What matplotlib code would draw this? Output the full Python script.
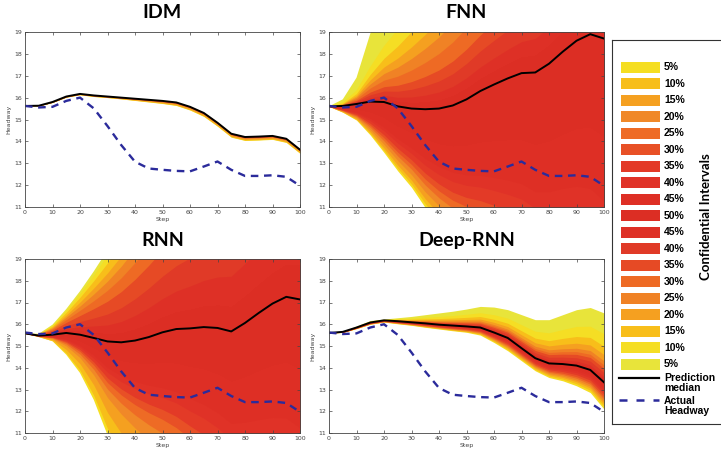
import numpy as np
import matplotlib
matplotlib.use('Agg')
from matplotlib import pyplot as plt
from matplotlib.patches import Rectangle

# x grid shared by all series
steps = [0, 5, 10, 15, 20, 25, 30, 35, 40, 45, 50, 55, 60, 65, 70, 75, 80, 85, 90, 95, 100]

actual_headway = [15.62, 15.55, 15.58, 15.85, 16.0, 15.51, 14.7, 13.83, 13.07, 12.76, 12.7, 12.65,
                  12.63, 12.85, 13.08, 12.7, 12.42, 12.42, 12.45, 12.38, 11.97]

# prediction medians
idm_median = [15.62, 15.63, 15.8, 16.05, 16.17, 16.1, 16.05, 16.0, 15.95, 15.9, 15.85, 15.78,
              15.58, 15.3, 14.85, 14.35, 14.2, 14.22, 14.25, 14.12, 13.62]
fnn_median = [15.6, 15.62, 15.71, 15.82, 15.8, 15.6, 15.5, 15.47, 15.5, 15.64, 15.92, 16.3,
              16.6, 16.88, 17.12, 17.15, 17.55, 18.1, 18.6, 18.9, 18.7]
rnn_median = [15.58, 15.48, 15.52, 15.6, 15.52, 15.37, 15.21, 15.17, 15.25, 15.41, 15.63, 15.78,
              15.81, 15.87, 15.83, 15.67, 16.06, 16.52, 16.95, 17.26, 17.14]
deep_median = [15.6, 15.65, 15.85, 16.08, 16.18, 16.14, 16.09, 16.04, 15.98, 15.94, 15.9, 15.85,
               15.62, 15.37, 14.9, 14.44, 14.2, 14.17, 14.1, 13.9, 13.33]

# outermost (5%) band distance above / below the median
idm_up = [0, 0.01, 0.01, 0.02, 0.02, 0.02, 0.02, 0.02, 0.02, 0.02, 0.03, 0.03,
          0.03, 0.03, 0.03, 0.03, 0.03, 0.03, 0.03, 0.03, 0.03]
idm_down = [0, 0.01, 0.02, 0.03, 0.04, 0.05, 0.05, 0.06, 0.08, 0.1, 0.12, 0.14,
            0.15, 0.16, 0.16, 0.16, 0.16, 0.16, 0.16, 0.17, 0.17]
fnn_up = [0, 0.3, 1.2, 3.1, 5.0, 6.9, 8.8, 10.7, 12.6, 14.5, 16.4, 18.3,
          20.2, 22.1, 24.0, 25.9, 27.8, 29.7, 31.6, 33.5, 35.4]
fnn_down = [0, 0.29, 0.74, 1.53, 2.31, 2.95, 3.6, 4.5, 5.3, 6.1, 6.9, 7.7,
            8.5, 9.3, 10.1, 10.9, 11.7, 12.5, 13.3, 14.1, 14.9]
rnn_up = [0, 0.08, 0.46, 1.1, 2.0, 3.06, 4.2, 5.3, 6.4, 7.5, 8.6, 9.7,
          10.8, 11.9, 13.0, 14.1, 15.2, 16.3, 17.4, 18.5, 19.6]
rnn_down = [0, 0.06, 0.3, 1.0, 1.76, 2.84, 4.3, 5.5, 6.7, 7.9, 9.1, 10.3,
            11.5, 12.7, 13.9, 15.1, 16.3, 17.5, 18.7, 19.9, 21.1]
deep_up = [0, 0.03, 0.07, 0.09, 0.06, 0.16, 0.27, 0.4, 0.54, 0.66, 0.8, 0.97,
           1.17, 1.3, 1.54, 1.77, 2.01, 2.27, 2.57, 2.87, 3.19]
deep_down = [0, 0.03, 0.05, 0.08, 0.08, 0.12, 0.14, 0.18, 0.2, 0.24, 0.27, 0.35,
             0.46, 0.59, 0.58, 0.58, 0.65, 0.77, 0.93, 1.04, 1.23]

# band edges as a share of the outermost distance (5% edge first, 45% edge last)
idm_up_frac = [1.0, 0.8, 0.6, 0.45, 0.35, 0.25, 0.18, 0.12, 0.07, 0.03]
idm_down_frac = [1.0, 0.9, 0.7, 0.45, 0.3, 0.2, 0.14, 0.1, 0.06, 0.03]
fnn_up_frac = [1.0, 0.51, 0.40, 0.32, 0.26, 0.20, 0.14, 0.10, 0.06, 0.03]
fnn_down_frac = [1.0, 0.96, 0.91, 0.84, 0.77, 0.71, 0.65, 0.57, 0.50, 0.30]
rnn_up_frac = [1.0, 0.95, 0.86, 0.75, 0.66, 0.56, 0.44, 0.30, 0.18, 0.08]
rnn_down_frac = [1.0, 0.93, 0.76, 0.60, 0.51, 0.44, 0.39, 0.33, 0.28, 0.15]
deep_up_frac = [1.0, 0.70, 0.52, 0.40, 0.31, 0.25, 0.20, 0.14, 0.08, 0.04]
deep_down_frac = [1.0, 0.90, 0.80, 0.72, 0.63, 0.55, 0.45, 0.35, 0.25, 0.15]

legend_labels = ['5%', '10%', '15%', '20%', '25%', '30%', '35%', '40%', '45%', '50%',
                 '45%', '40%', '35%', '30%', '25%', '20%', '15%', '10%', '5%']
legend_colors = ['#F5DE22', '#F7BE1A', '#F5A020', '#F08828', '#EE6B25', '#E85026', '#E33A27',
                 '#E03227', '#DE2F25', '#DC2E24', '#DE3026', '#E03A27', '#E64A25', '#EE6A24',
                 '#F08225', '#F5A020', '#F8BE1A', '#F5DE24', '#E8E43A']

# colours of the bands in the plots, outermost upper band first
band_colors = legend_colors[::-1]

W, H = 721, 453
fig = plt.figure(figsize=(W / 100, H / 100), dpi=100)


def px_axes(left, top, right, bottom):
    return fig.add_axes([left / W, 1 - bottom / H, (right - left) / W, (bottom - top) / H])


def draw_panel(ax, median, up, down, up_frac, down_frac):
    x = np.array(steps)
    med = np.array(median)
    uppers = [med + f * np.array(up) for f in up_frac]
    lowers = [med - f * np.array(down) for f in down_frac]
    # nested fills, outer first, so neighbouring bands leave no seams
    for k in range(10):
        ax.fill_between(x, med, uppers[k], color=band_colors[k], lw=0)
        ax.fill_between(x, lowers[k], med, color=band_colors[18 - k], lw=0)
    ax.fill_between(x, lowers[9], uppers[9], color=band_colors[9], lw=0)
    ax.plot(x, med, color='black', lw=1.4)
    ax.plot(x, actual_headway, color='#2B2B9B', lw=1.7, linestyle=(0, (3.2, 2.4)))
    ax.set_xlim(0, 100)
    ax.set_ylim(11, 19)
    ax.set_xticks(range(0, 101, 10))
    ax.set_yticks(range(11, 20))
    ax.tick_params(direction='in', length=2.5, width=0.5, labelsize=4.5, pad=2,
                   colors='#444444', top=True, right=True)
    for s in ax.spines.values():
        s.set_linewidth(0.6)
        s.set_color('#444444')
    ax.set_xlabel('Step', fontsize=4.5, color='#444444', labelpad=1.5)
    ax.set_ylabel('Headway', fontsize=4.5, color='#444444', labelpad=2)


panels = [
    ('IDM', (25, 32, 300, 207), idm_median, idm_up, idm_down, idm_up_frac, idm_down_frac),
    ('FNN', (329, 32, 604, 207), fnn_median, fnn_up, fnn_down, fnn_up_frac, fnn_down_frac),
    ('RNN', (25, 259, 300, 433), rnn_median, rnn_up, rnn_down, rnn_up_frac, rnn_down_frac),
    ('Deep-RNN', (329, 259, 604, 433), deep_median, deep_up, deep_down, deep_up_frac, deep_down_frac),
]

for title, box, med, up, down, uf, df in panels:
    ax = px_axes(*box)
    draw_panel(ax, med, up, down, uf, df)
    fig.text((box[0] + box[2]) / 2 / W, 1 - (box[1] - 19) / H, title, ha='center', va='center',
             fontsize=14, fontweight='bold', family='Lato')

# legend box
lax = px_axes(612, 40, 728, 424)
lax.set_xlim(612, 728)
lax.set_ylim(424, 40)
lax.set_xticks([])
lax.set_yticks([])
for s in lax.spines.values():
    s.set_linewidth(0.8)
    s.set_color('#333333')

for i, (lab, col) in enumerate(zip(legend_labels, legend_colors)):
    yc = 67 + 16.5 * i
    lax.add_patch(Rectangle((621, yc - 5.5), 39, 11, facecolor=col, edgecolor='none'))
    lax.text(664, yc, lab, fontsize=7.5, fontweight='bold', va='center', ha='left',
             family='Liberation Sans')

lax.plot([619, 659], [378, 378], color='black', lw=1.6)
lax.text(664, 378, 'Prediction', fontsize=7.5, fontweight='bold', va='center', family='Liberation Sans')
lax.text(664, 388, 'median', fontsize=7.5, fontweight='bold', va='center', family='Liberation Sans')
lax.plot([619, 659], [400, 400], color='#2B2B9B', lw=1.8, linestyle=(0, (3.2, 3.6)))
lax.text(664, 401, 'Actual', fontsize=7.5, fontweight='bold', va='center', family='Liberation Sans')
lax.text(664, 411, 'Headway', fontsize=7.5, fontweight='bold', va='center', family='Liberation Sans')
lax.text(706, 217, 'Confidential Intervals', fontsize=9.5, fontweight='bold', rotation=90,
         va='center', ha='center', family='Lato')

fig.savefig('out.png', dpi=100)
